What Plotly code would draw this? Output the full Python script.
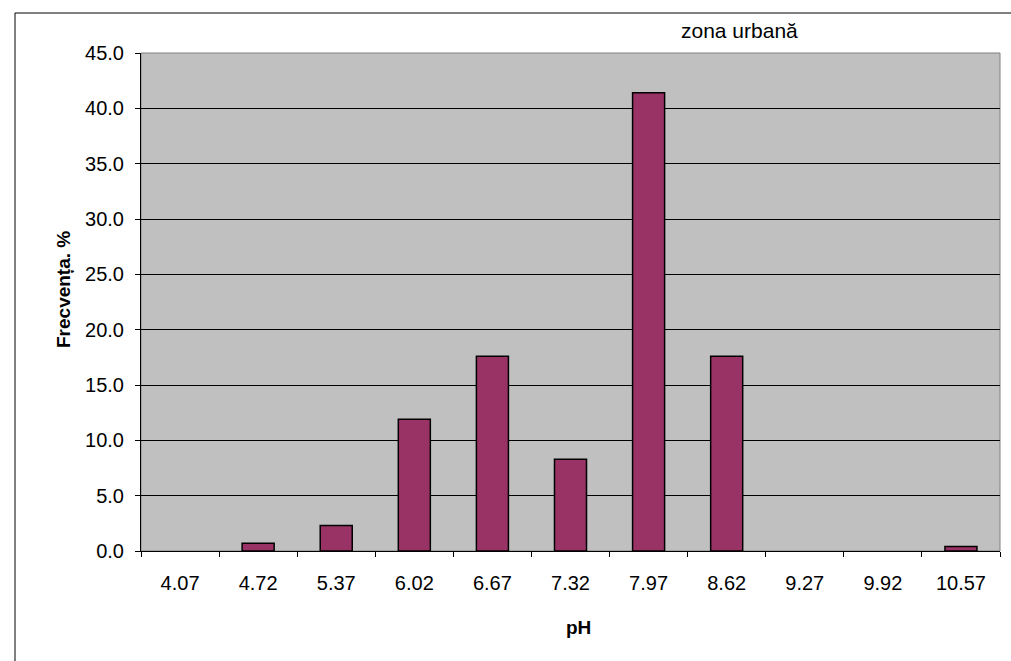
import plotly.graph_objects as go

categories = ["4.07", "4.72", "5.37", "6.02", "6.67", "7.32", "7.97", "8.62", "9.27", "9.92", "10.57"]
frequency = [0.0, 0.7, 2.3, 11.9, 17.6, 8.3, 41.4, 17.6, 0.0, 0.0, 0.4]
y_ticks = [0, 5, 10, 15, 20, 25, 30, 35, 40, 45]

W, H = 1011, 661
L, R, T, B = 141, 11, 53, 110
pw, ph = W - L - R, H - T - B

def px_x(p):
    return (p - L) / pw

def px_y(p):
    return (H - B - p) / ph

FONT = "Liberation Sans, Arial, sans-serif"

fig = go.Figure(go.Bar(
    x=categories, y=frequency,
    marker=dict(color="#993366",
                line=dict(color="black", width=[1.5 if v > 0 else 0 for v in frequency])),
))

fig.update_layout(
    width=W, height=H,
    margin=dict(l=L, r=R, t=T, b=B, autoexpand=False),
    paper_bgcolor="white", plot_bgcolor="#C0C0C0",
    bargap=0.59, showlegend=False,
    font=dict(family=FONT, color="black", size=20),
)
fig.update_xaxes(
    type="category", tickson="boundaries", ticks="outside", ticklen=5,
    tickcolor="black", showline=True, linecolor="black", linewidth=1,
    showgrid=False, tickfont=dict(size=20), ticklabelstandoff=14,
)
fig.update_yaxes(
    range=[0, 45], tickvals=y_ticks, tickformat=".1f", ticks="outside", ticklen=5,
    tickcolor="black", showline=True, linecolor="black", linewidth=1,
    showgrid=True, gridcolor="black", gridwidth=1, zeroline=False,
    tickfont=dict(size=20), ticklabelstandoff=7,
)

# plot-area frame (gray top/right)
fig.add_shape(type="rect", xref="paper", yref="paper", x0=0, x1=1, y0=0, y1=1,
              line=dict(color="#808080", width=1), layer="below")
# outer chart border (extends beyond image on right/bottom)
fig.add_shape(type="rect", xref="paper", yref="paper",
              x0=px_x(15), x1=px_x(1020), y0=px_y(670), y1=px_y(13),
              line=dict(color="black", width=1))

fig.add_annotation(text="zona urbană", xref="paper", yref="paper",
                   x=px_x(739), y=px_y(30), xanchor="center", yanchor="middle",
                   showarrow=False,
                   font=dict(size=21, family=FONT, color="black"))
fig.add_annotation(text="<b>Frecvența. %</b>", xref="paper", yref="paper",
                   x=px_x(63), y=px_y(290), xanchor="center", yanchor="middle",
                   showarrow=False, textangle=-90,
                   font=dict(size=19, family=FONT, color="black"))
fig.add_annotation(text="<b>pH</b>", xref="paper", yref="paper",
                   x=px_x(578), y=px_y(627), xanchor="center", yanchor="middle",
                   showarrow=False,
                   font=dict(size=19, family=FONT, color="black"))

fig.write_html("out.html")
